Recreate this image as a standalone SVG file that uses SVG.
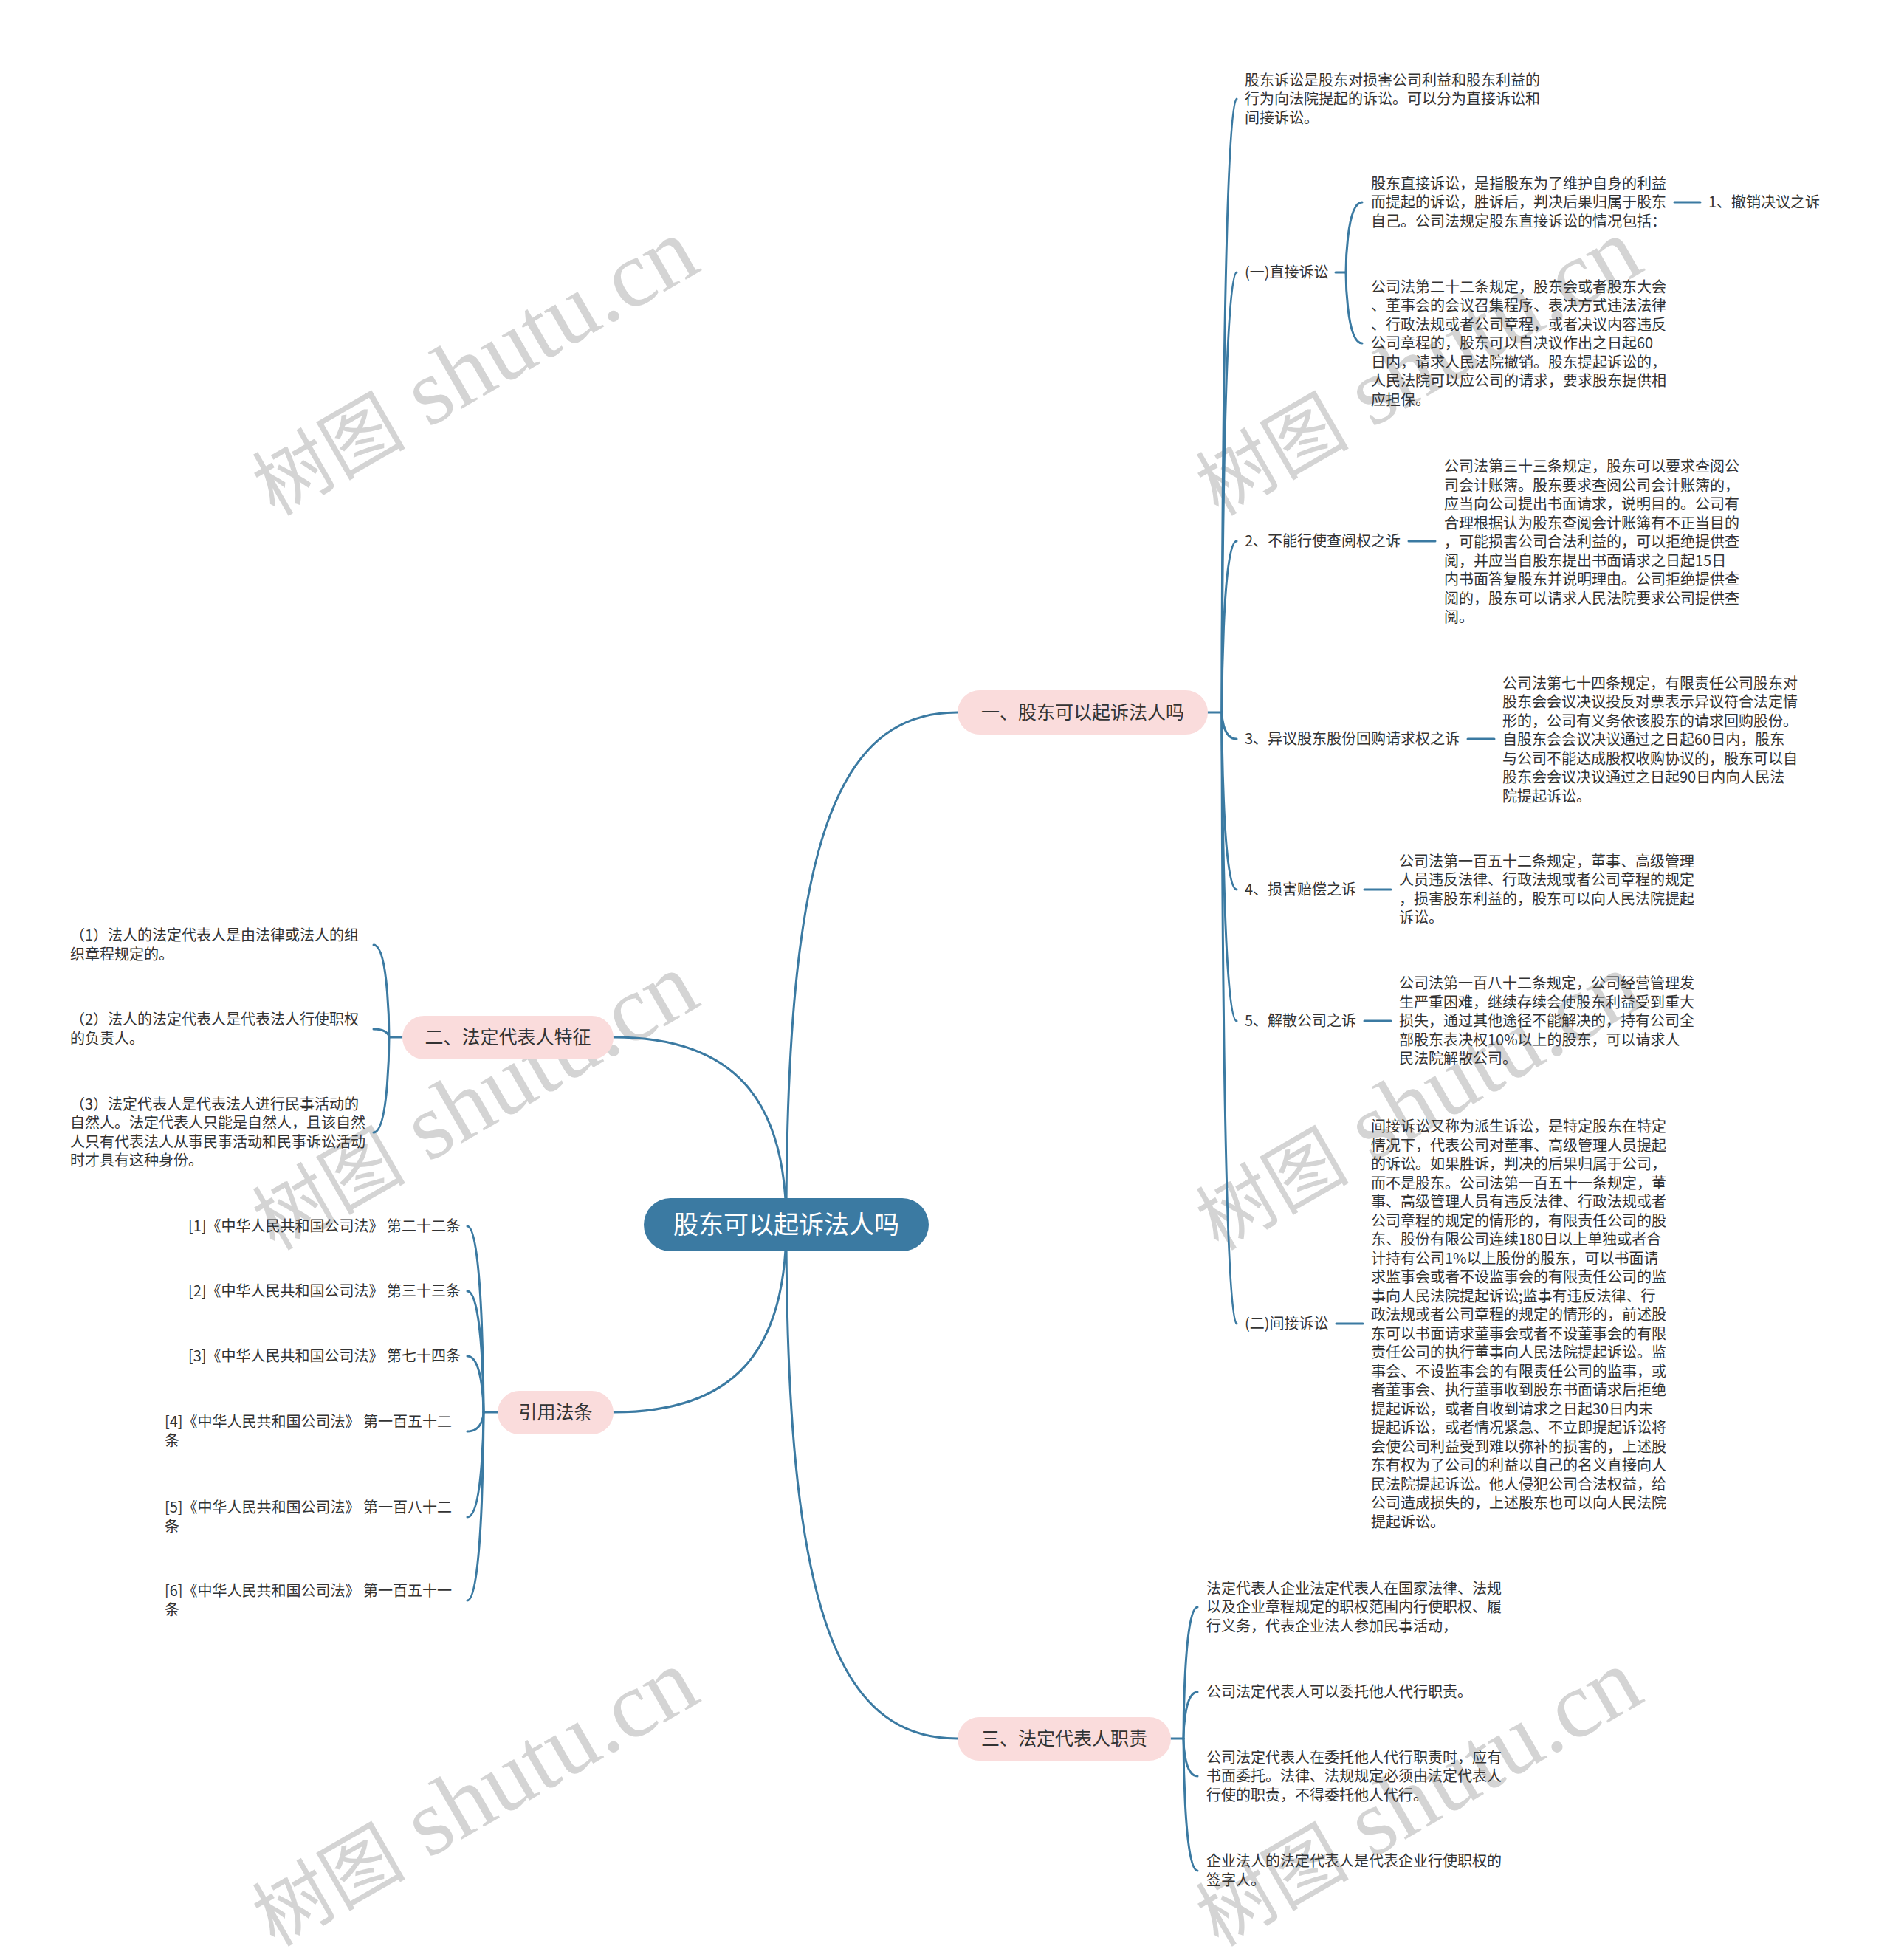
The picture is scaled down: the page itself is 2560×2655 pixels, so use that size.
<svg xmlns="http://www.w3.org/2000/svg" width="2560" height="2655" viewBox="0 0 2560 2655">
<defs>
<style>
.bg{fill:#ffffff}
.wm{font-family:"Liberation Serif","Noto Sans CJK SC",serif;font-size:104px;fill:#d4d4d4}
.wm .en{font-size:128px}
.t{font-family:"Noto Sans CJK SC","Noto Sans",sans-serif;font-size:20px;fill:#333333}
.bt{font-family:"Noto Sans CJK SC","Noto Sans",sans-serif;font-size:25px;fill:#333333;text-anchor:middle}
.ct{font-family:"Noto Sans CJK SC","Noto Sans",sans-serif;font-size:34px;fill:#ffffff;text-anchor:middle}
.pill{fill:#fadcdc}
.root{fill:#3b7aa2}
.ln{fill:none;stroke:#3b7aa2;stroke-width:3;stroke-linecap:round}
</style>
</defs>
<rect class="bg" x="0" y="0" width="2560" height="2655"/>
<g id="watermarks">
<text class="wm" x="372" y="700" transform="rotate(-30 372 700)">树图<tspan class="en"> shutu.cn</tspan></text>
<text class="wm" x="1650" y="700" transform="rotate(-30 1650 700)">树图<tspan class="en"> shutu.cn</tspan></text>
<text class="wm" x="372" y="1695" transform="rotate(-30 372 1695)">树图<tspan class="en"> shutu.cn</tspan></text>
<text class="wm" x="1650" y="1695" transform="rotate(-30 1650 1695)">树图<tspan class="en"> shutu.cn</tspan></text>
<text class="wm" x="372" y="2638" transform="rotate(-30 372 2638)">树图<tspan class="en"> shutu.cn</tspan></text>
<text class="wm" x="1650" y="2638" transform="rotate(-30 1650 2638)">树图<tspan class="en"> shutu.cn</tspan></text>
</g>
<g id="connectors">
<path class="ln" d="M1065 1659 C1065 1150 1130 965 1297 965"/>
<path class="ln" d="M1065 1659 C1065 2168 1130 2355 1297 2355"/>
<path class="ln" d="M1065 1659 C1065 1490 995 1405 831 1405"/>
<path class="ln" d="M1065 1659 C1065 1830 995 1913 831 1913"/>
<path class="ln" d="M1636 965 L1655 965"/>
<path class="ln" d="M1655 965 C1655 965 1655 134 1675 134"/>
<path class="ln" d="M1655 965 C1655 965 1655 369 1675 369"/>
<path class="ln" d="M1655 965 C1655 965 1655 733 1675 733"/>
<path class="ln" d="M1655 965 C1655 965 1655 1001 1675 1001"/>
<path class="ln" d="M1655 965 C1655 965 1655 1205 1675 1205"/>
<path class="ln" d="M1655 965 C1655 965 1655 1383 1675 1383"/>
<path class="ln" d="M1655 965 C1655 965 1655 1793 1675 1793"/>
<path class="ln" d="M1809 369 L1823 369"/>
<path class="ln" d="M1823 369 C1823 369 1823 274 1845 274"/>
<path class="ln" d="M1823 369 C1823 369 1823 465 1845 465"/>
<path class="ln" d="M2268 274 L2303 274"/>
<path class="ln" d="M1908 733 L1944 733"/>
<path class="ln" d="M1988 1001 L2024 1001"/>
<path class="ln" d="M1848 1205 L1884 1205"/>
<path class="ln" d="M1848 1383 L1884 1383"/>
<path class="ln" d="M1810 1793 L1846 1793"/>
<path class="ln" d="M1586 2355 L1603 2355"/>
<path class="ln" d="M1603 2355 C1603 2355 1603 2177 1622 2177"/>
<path class="ln" d="M1603 2355 C1603 2355 1603 2292 1622 2292"/>
<path class="ln" d="M1603 2355 C1603 2355 1603 2406 1622 2406"/>
<path class="ln" d="M1603 2355 C1603 2355 1603 2534 1622 2534"/>
<path class="ln" d="M545 1405 L527 1405"/>
<path class="ln" d="M527 1405 C527 1405 527 1280 506 1280"/>
<path class="ln" d="M527 1405 C527 1405 527 1394 506 1394"/>
<path class="ln" d="M527 1405 C527 1405 527 1534 506 1534"/>
<path class="ln" d="M674 1913 L655 1913"/>
<path class="ln" d="M655 1913 C655 1913 655 1661 633 1661"/>
<path class="ln" d="M655 1913 C655 1913 655 1749 633 1749"/>
<path class="ln" d="M655 1913 C655 1913 655 1837 633 1837"/>
<path class="ln" d="M655 1913 C655 1913 655 1939 633 1939"/>
<path class="ln" d="M655 1913 C655 1913 655 2055 633 2055"/>
<path class="ln" d="M655 1913 C655 1913 655 2168 633 2168"/>
</g>
<g id="root">
<rect class="root" x="872" y="1623" width="386" height="72" rx="36"/>
<text class="ct" x="1065" y="1671">股东可以起诉法人吗</text>
</g>
<g id="b1">
<rect class="pill" x="1297" y="935" width="339" height="60" rx="30"/>
<text class="bt" x="1466.5" y="974">一、股东可以起诉法人吗</text>
</g>
<g id="b2">
<rect class="pill" x="545" y="1376" width="286" height="59" rx="29.5"/>
<text class="bt" x="688" y="1414">二、法定代表人特征</text>
</g>
<g id="b3">
<rect class="pill" x="674" y="1884" width="157" height="59" rx="29.5"/>
<text class="bt" x="752.5" y="1922">引用法条</text>
</g>
<g id="b4">
<rect class="pill" x="1297" y="2326" width="289" height="59" rx="29.5"/>
<text class="bt" x="1441.5" y="2364">三、法定代表人职责</text>
</g>
<g id="n1a">
<text class="t"><tspan x="1686" y="115.5">股东诉讼是股东对损害公司利益和股东利益的</tspan><tspan x="1686" y="141">行为向法院提起的诉讼。可以分为直接诉讼和</tspan><tspan x="1686" y="166.5">间接诉讼。</tspan></text>
</g>
<g id="n1b">
<text class="t" x="1686" y="376">(一)直接诉讼</text>
</g>
<g id="n1b1">
<text class="t"><tspan x="1857" y="255.5">股东直接诉讼，是指股东为了维护自身的利益</tspan><tspan x="1857" y="281">而提起的诉讼，胜诉后，判决后果归属于股东</tspan><tspan x="1857" y="306.5">自己。公司法规定股东直接诉讼的情况包括：</tspan></text>
</g>
<g id="n1b1a">
<text class="t" x="2314" y="281">1、撤销决议之诉</text>
</g>
<g id="n1b2">
<text class="t"><tspan x="1857" y="395.5">公司法第二十二条规定，股东会或者股东大会</tspan><tspan x="1857" y="421">、董事会的会议召集程序、表决方式违法法律</tspan><tspan x="1857" y="446.5">、行政法规或者公司章程，或者决议内容违反</tspan><tspan x="1857" y="472">公司章程的，股东可以自决议作出之日起60</tspan><tspan x="1857" y="497.5">日内，请求人民法院撤销。股东提起诉讼的，</tspan><tspan x="1857" y="523">人民法院可以应公司的请求，要求股东提供相</tspan><tspan x="1857" y="548.5">应担保。</tspan></text>
</g>
<g id="n1c">
<text class="t" x="1686" y="740">2、不能行使查阅权之诉</text>
</g>
<g id="n1c1">
<text class="t"><tspan x="1956" y="639">公司法第三十三条规定，股东可以要求查阅公</tspan><tspan x="1956" y="664.5">司会计账簿。股东要求查阅公司会计账簿的，</tspan><tspan x="1956" y="690">应当向公司提出书面请求，说明目的。公司有</tspan><tspan x="1956" y="715.5">合理根据认为股东查阅会计账簿有不正当目的</tspan><tspan x="1956" y="741">，可能损害公司合法利益的，可以拒绝提供查</tspan><tspan x="1956" y="766.5">阅，并应当自股东提出书面请求之日起15日</tspan><tspan x="1956" y="792">内书面答复股东并说明理由。公司拒绝提供查</tspan><tspan x="1956" y="817.5">阅的，股东可以请求人民法院要求公司提供查</tspan><tspan x="1956" y="843">阅。</tspan></text>
</g>
<g id="n1d">
<text class="t" x="1686" y="1008">3、异议股东股份回购请求权之诉</text>
</g>
<g id="n1d1">
<text class="t"><tspan x="2035" y="932.5">公司法第七十四条规定，有限责任公司股东对</tspan><tspan x="2035" y="958">股东会会议决议投反对票表示异议符合法定情</tspan><tspan x="2035" y="983.5">形的，公司有义务依该股东的请求回购股份。</tspan><tspan x="2035" y="1009">自股东会会议决议通过之日起60日内，股东</tspan><tspan x="2035" y="1034.5">与公司不能达成股权收购协议的，股东可以自</tspan><tspan x="2035" y="1060">股东会会议决议通过之日起90日内向人民法</tspan><tspan x="2035" y="1085.5">院提起诉讼。</tspan></text>
</g>
<g id="n1e">
<text class="t" x="1686" y="1212">4、损害赔偿之诉</text>
</g>
<g id="n1e1">
<text class="t"><tspan x="1895" y="1173.75">公司法第一百五十二条规定，董事、高级管理</tspan><tspan x="1895" y="1199.25">人员违反法律、行政法规或者公司章程的规定</tspan><tspan x="1895" y="1224.75">，损害股东利益的，股东可以向人民法院提起</tspan><tspan x="1895" y="1250.25">诉讼。</tspan></text>
</g>
<g id="n1f">
<text class="t" x="1686" y="1390">5、解散公司之诉</text>
</g>
<g id="n1f1">
<text class="t"><tspan x="1895" y="1339">公司法第一百八十二条规定，公司经营管理发</tspan><tspan x="1895" y="1364.5">生严重困难，继续存续会使股东利益受到重大</tspan><tspan x="1895" y="1390">损失，通过其他途径不能解决的，持有公司全</tspan><tspan x="1895" y="1415.5">部股东表决权10%以上的股东，可以请求人</tspan><tspan x="1895" y="1441">民法院解散公司。</tspan></text>
</g>
<g id="n1g">
<text class="t" x="1686" y="1800">(二)间接诉讼</text>
</g>
<g id="n1g1">
<text class="t"><tspan x="1857" y="1533.25">间接诉讼又称为派生诉讼，是特定股东在特定</tspan><tspan x="1857" y="1558.75">情况下，代表公司对董事、高级管理人员提起</tspan><tspan x="1857" y="1584.25">的诉讼。如果胜诉，判决的后果归属于公司，</tspan><tspan x="1857" y="1609.75">而不是股东。公司法第一百五十一条规定，董</tspan><tspan x="1857" y="1635.25">事、高级管理人员有违反法律、行政法规或者</tspan><tspan x="1857" y="1660.75">公司章程的规定的情形的，有限责任公司的股</tspan><tspan x="1857" y="1686.25">东、股份有限公司连续180日以上单独或者合</tspan><tspan x="1857" y="1711.75">计持有公司1%以上股份的股东，可以书面请</tspan><tspan x="1857" y="1737.25">求监事会或者不设监事会的有限责任公司的监</tspan><tspan x="1857" y="1762.75">事向人民法院提起诉讼;监事有违反法律、行</tspan><tspan x="1857" y="1788.25">政法规或者公司章程的规定的情形的，前述股</tspan><tspan x="1857" y="1813.75">东可以书面请求董事会或者不设董事会的有限</tspan><tspan x="1857" y="1839.25">责任公司的执行董事向人民法院提起诉讼。监</tspan><tspan x="1857" y="1864.75">事会、不设监事会的有限责任公司的监事，或</tspan><tspan x="1857" y="1890.25">者董事会、执行董事收到股东书面请求后拒绝</tspan><tspan x="1857" y="1915.75">提起诉讼，或者自收到请求之日起30日内未</tspan><tspan x="1857" y="1941.25">提起诉讼，或者情况紧急、不立即提起诉讼将</tspan><tspan x="1857" y="1966.75">会使公司利益受到难以弥补的损害的，上述股</tspan><tspan x="1857" y="1992.25">东有权为了公司的利益以自己的名义直接向人</tspan><tspan x="1857" y="2017.75">民法院提起诉讼。他人侵犯公司合法权益，给</tspan><tspan x="1857" y="2043.25">公司造成损失的，上述股东也可以向人民法院</tspan><tspan x="1857" y="2068.75">提起诉讼。</tspan></text>
</g>
<g id="n4a">
<text class="t"><tspan x="1634" y="2158.5">法定代表人企业法定代表人在国家法律、法规</tspan><tspan x="1634" y="2184">以及企业章程规定的职权范围内行使职权、履</tspan><tspan x="1634" y="2209.5">行义务，代表企业法人参加民事活动，</tspan></text>
</g>
<g id="n4b">
<text class="t" x="1634" y="2299">公司法定代表人可以委托他人代行职责。</text>
</g>
<g id="n4c">
<text class="t"><tspan x="1634" y="2387.5">公司法定代表人在委托他人代行职责时，应有</tspan><tspan x="1634" y="2413">书面委托。法律、法规规定必须由法定代表人</tspan><tspan x="1634" y="2438.5">行使的职责，不得委托他人代行。</tspan></text>
</g>
<g id="n4d">
<text class="t"><tspan x="1634" y="2528.25">企业法人的法定代表人是代表企业行使职权的</tspan><tspan x="1634" y="2553.75">签字人。</tspan></text>
</g>
<g id="n2a">
<text class="t"><tspan x="95" y="1274.25">（1）法人的法定代表人是由法律或法人的组</tspan><tspan x="95" y="1299.75">织章程规定的。</tspan></text>
</g>
<g id="n2b">
<text class="t"><tspan x="95" y="1388.25">（2）法人的法定代表人是代表法人行使职权</tspan><tspan x="95" y="1413.75">的负责人。</tspan></text>
</g>
<g id="n2c">
<text class="t"><tspan x="95" y="1502.75">（3）法定代表人是代表法人进行民事活动的</tspan><tspan x="95" y="1528.25">自然人。法定代表人只能是自然人，且该自然</tspan><tspan x="95" y="1553.75">人只有代表法人从事民事活动和民事诉讼活动</tspan><tspan x="95" y="1579.25">时才具有这种身份。</tspan></text>
</g>
<g id="n3a">
<text class="t" x="624" y="1668" text-anchor="end">[1]《中华人民共和国公司法》 第二十二条</text>
</g>
<g id="n3b">
<text class="t" x="624" y="1756" text-anchor="end">[2]《中华人民共和国公司法》 第三十三条</text>
</g>
<g id="n3c">
<text class="t" x="624" y="1844" text-anchor="end">[3]《中华人民共和国公司法》 第七十四条</text>
</g>
<g id="n3d">
<text class="t"><tspan x="223" y="1933.25">[4]《中华人民共和国公司法》 第一百五十二</tspan><tspan x="223" y="1958.75">条</tspan></text>
</g>
<g id="n3e">
<text class="t"><tspan x="223" y="2049.25">[5]《中华人民共和国公司法》 第一百八十二</tspan><tspan x="223" y="2074.75">条</tspan></text>
</g>
<g id="n3f">
<text class="t"><tspan x="223" y="2162.25">[6]《中华人民共和国公司法》 第一百五十一</tspan><tspan x="223" y="2187.75">条</tspan></text>
</g>
</svg>
